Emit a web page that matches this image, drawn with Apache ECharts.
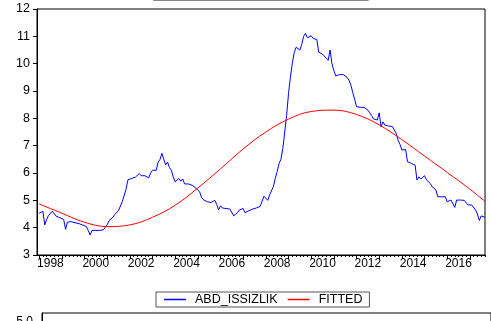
<!DOCTYPE html>
<html><head><meta charset="utf-8">
<script src="https://cdn.jsdelivr.net/npm/echarts@6/dist/echarts.min.js"></script>
<style>html,body{margin:0;padding:0;background:#fff}#c{width:491px;height:321px}</style>
</head><body><div id="c"></div>
<script>
// Monthly series, starting 1998M01
const startYear = 1998;
const issizlik = [
 4.52,4.58,4.6,4.1,4.3,4.45,4.5,4.6,4.55,4.42,4.38,4.36,
 4.32,4.3,3.94,4.2,4.24,4.22,4.2,4.18,4.2,4.15,4.12,4.1,
 4.05,4.04,3.9,3.73,3.9,3.85,3.9,3.9,3.9,3.9,3.92,3.92,
 4.1,4.25,4.3,4.38,4.48,4.52,4.62,4.58,4.95,4.95,5.4,5.75,
 5.8,5.8,5.8,5.85,5.8,5.98,5.9,5.92,5.9,5.85,5.82,6.0,
 6.1,6.15,6.1,6.4,6.5,6.72,6.5,6.3,6.4,6.2,6.1,5.85,
 5.68,5.75,5.8,5.7,5.78,5.6,5.58,5.6,5.6,5.55,5.5,5.45,
 5.48,5.3,5.1,5.02,5.0,4.95,4.95,4.92,4.95,5.0,4.85,4.65,
 4.8,4.72,4.7,4.7,4.7,4.68,4.65,4.43,4.45,4.55,4.65,4.7,
 4.7,4.55,4.58,4.62,4.65,4.68,4.7,4.72,4.75,4.78,4.78,5.15,
 5.22,5.0,5.2,5.26,5.5,5.8,6.05,6.35,6.5,6.9,7.5,8.1,
 8.9,9.5,10.0,10.4,10.6,10.62,10.5,10.7,11.0,11.11,10.95,10.93,
 11.02,10.93,10.9,10.88,10.42,10.38,10.35,10.3,10.2,10.12,10.5,10.0,
 9.75,9.55,9.5,9.6,9.58,9.6,9.62,9.5,9.4,9.22,8.95,8.7,
 8.43,8.42,8.4,8.36,8.4,8.43,8.3,8.2,8.1,7.98,7.94,7.94,
 8.2,7.69,7.87,7.75,7.69,7.72,7.7,7.7,7.69,7.45,7.2,7.05,
 6.84,6.82,6.86,6.41,6.35,6.35,6.32,6.29,5.74,5.86,5.78,5.74,
 5.9,5.75,5.68,5.62,5.5,5.45,5.38,5.13,5.13,5.13,5.13,5.13,
 4.95,5.0,5.01,5.01,4.74,5.01,5.01,5.01,5.07,5.0,4.95,4.83,
 4.83,4.83,4.83,4.65,4.5,4.26,4.43,4.5,4.38
];
const fittedYears  = [1998,1999,2000,2001,2002,2003,2004,2005,2006,2007,2008,2009,2010,2011,2012,2013,2014,2015,2016,2017,2017.667];
const fittedValues = [4.87,4.53,4.2,4.04,4.1,4.38,4.82,5.45,6.15,6.88,7.5,7.97,8.25,8.3,8.14,7.76,7.22,6.62,6.02,5.41,4.96];
const labelYears = [1998,2000,2002,2004,2006,2008,2010,2012,2014,2016];
const majorTickYears = [1998,1999,2000,2001,2002,2003,2004,2005,2006,2007,2008,2009,2010,2011,2012,2013,2014,2015,2016,2017];
const yTicks = [3,4,5,6,7,8,9,10,11,12];
const seriesNames = ['ABD_ISSIZLIK','FITTED'];
const seriesColors = ['#0000ff','#ff0000'];

const xMin = 1997.907, xMax = 2017.667;
const minorTicks = [];
for (let y = 1998; y <= 2017; y++) for (let k = 1; k < 6; k++) { const v = y + k/6; if (v < xMax) minorTicks.push(v); }

const font = "'Liberation Sans', Arial, sans-serif";
const chart = echarts.init(document.getElementById('c'), null, {renderer:'canvas'});
chart.setOption({
  animation:false,
  backgroundColor:'#fff',
  color:seriesColors,
  textStyle:{fontFamily:font},
  grid:[
    {left:37, right:6, top:9, bottom:66, show:true, borderColor:'#000', borderWidth:1},
    {left:42, right:-5, top:313, height:200, show:true, borderColor:'#000', borderWidth:1}
  ],
  legend:{
    data:seriesNames.map((n,i)=>({name:n, icon:'rect', itemStyle:{color:seriesColors[i], borderWidth:0}})),
    left:156, top:292, orient:'horizontal',
    borderColor:'#555', borderWidth:1, padding:[1,7,1,8], itemGap:10,
    itemWidth:22, itemHeight:1.5,
    textStyle:{fontFamily:font, fontSize:12.5, color:'#000', lineHeight:13, padding:[0,0,0,4]}
  },
  xAxis:[
    {type:'value', gridIndex:0, min:xMin, max:xMax, position:'bottom',
     axisLine:{show:true, lineStyle:{color:'#000', width:1}},
     axisTick:{show:true, length:4, inside:false, customValues:majorTickYears, lineStyle:{color:'#000'}},
     axisLabel:{show:true, customValues:labelYears.map(y=>y+0.5), formatter:v=>String(Math.floor(v)),
       color:'#000', fontSize:12, fontFamily:font, margin:3},
     splitLine:{show:false}},
    {type:'value', gridIndex:0, min:xMin, max:xMax, position:'bottom',
     axisLine:{show:false}, axisLabel:{show:false}, splitLine:{show:false},
     axisTick:{show:true, length:2, customValues:minorTicks, lineStyle:{color:'#000'}}},
    {type:'value', gridIndex:1, min:0, max:1, show:false}
  ],
  yAxis:[
    {type:'value', gridIndex:0, min:3, max:12, interval:1,
     axisLine:{show:true, lineStyle:{color:'#000', width:1}},
     axisTick:{show:true, length:4, lineStyle:{color:'#000'}},
     axisLabel:{color:'#000', fontSize:12.5, fontFamily:font, margin:7,
       formatter:v=>yTicks.includes(v)?String(v):''},
     splitLine:{show:false}},
    {type:'value', gridIndex:1, min:0, max:6, interval:1,
     axisLine:{show:true, lineStyle:{color:'#000', width:1}},
     axisTick:{show:true, length:5, lineStyle:{color:'#000'}},
     axisLabel:{color:'#000', fontSize:12, fontFamily:font, margin:9, formatter:v=>v.toFixed(1)},
     splitLine:{show:false}}
  ],
  graphic:[
    {type:'rect', shape:{x:153.5, y:-10.5, width:215, height:11}, style:{fill:'none', stroke:'#888', lineWidth:1}, silent:true}
  ],
  series:[
    {name:seriesNames[0], type:'line', xAxisIndex:0, yAxisIndex:0, symbol:'none', color:seriesColors[0],
     lineStyle:{color:seriesColors[0], width:1}, itemStyle:{color:seriesColors[0]},
     data:issizlik.map((v,i)=>[startYear + i/12, v])},
    {name:seriesNames[1], type:'line', xAxisIndex:0, yAxisIndex:0, symbol:'none', smooth:0.4, color:seriesColors[1],
     lineStyle:{color:seriesColors[1], width:1}, itemStyle:{color:seriesColors[1]},
     data:fittedYears.map((y,i)=>[y, fittedValues[i]])}
  ]
});
</script></body></html>
